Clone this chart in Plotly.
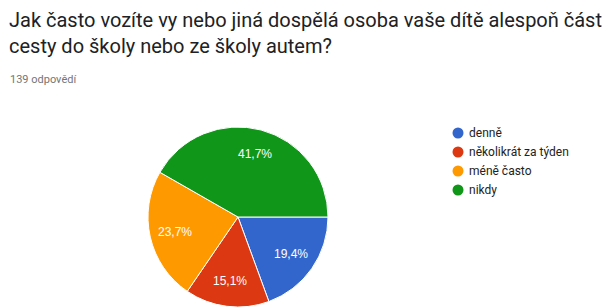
import math
import plotly.graph_objects as go

title_lines = ["Jak často vozíte vy nebo jiná dospělá osoba vaše dítě alespoň část",
               "cesty do školy nebo ze školy autem?"]
subtitle = "139 odpovědí"
categories = ["denně", "několikrát za týden", "méně často", "nikdy"]
counts = [27, 21, 33, 58]
colors = ["#3366cc", "#dc3912", "#ff9900", "#109618"]

W, H = 608, 308
total = sum(counts)
labels_txt = [f"{c / total * 100:.1f}".replace(".", ",") + "%" for c in counts]

fig = go.Figure()
cx, cy, R = 238, 217, 90
fig.add_trace(go.Pie(
    labels=categories, values=counts, sort=False, direction="clockwise", rotation=90,
    marker=dict(colors=colors, line=dict(color="white", width=1)),
    textinfo="none",
    showlegend=False, hoverinfo="label+percent",
    domain=dict(x=[(cx - R) / W, (cx + R) / W], y=[(H - cy - R) / H, (H - cy + R) / H]),
))

# slice labels at mid-angle of each slice
start = 90.0
for c, t in zip(counts, labels_txt):
    span = c / total * 360
    mid = math.radians(start + span / 2)
    rr = 0.72 * R
    x = cx + rr * math.sin(mid)
    y = cy - rr * math.cos(mid)
    fig.add_annotation(text=t, x=x / W, y=1 - y / H, xref="paper", yref="paper",
                       xanchor="center", yanchor="middle", showarrow=False,
                       font=dict(family="Arial", size=12, color="white"))
    start += span

fig.add_annotation(text="<br>".join(title_lines), x=7 / W, y=1 - 6 / H, xref="paper", yref="paper",
                   xanchor="left", yanchor="top", align="left", showarrow=False,
                   font=dict(family="Roboto", size=20, color="#202124"))
fig.add_annotation(text=subtitle, x=8 / W, y=1 - 71 / H, xref="paper", yref="paper",
                   xanchor="left", yanchor="top", align="left", showarrow=False,
                   font=dict(family="Roboto", size=11, color="#757575"))

lx, ly0, dy, r = 458, 133, 19, 5.5
for i, (cat, col) in enumerate(zip(categories, colors)):
    y = ly0 + i * dy
    fig.add_shape(type="circle", xref="paper", yref="paper",
                  x0=(lx - r) / W, x1=(lx + r) / W, y0=1 - (y + r) / H, y1=1 - (y - r) / H,
                  fillcolor=col, line=dict(width=0))
    fig.add_annotation(text=cat, x=(lx + 9) / W, y=1 - y / H, xref="paper", yref="paper",
                       xanchor="left", yanchor="middle", showarrow=False,
                       font=dict(family="Roboto", size=12, color="#222222"))

fig.update_layout(width=W, height=H, margin=dict(l=0, r=0, t=0, b=0),
                  paper_bgcolor="white", plot_bgcolor="white")
fig.write_html("out.html")
